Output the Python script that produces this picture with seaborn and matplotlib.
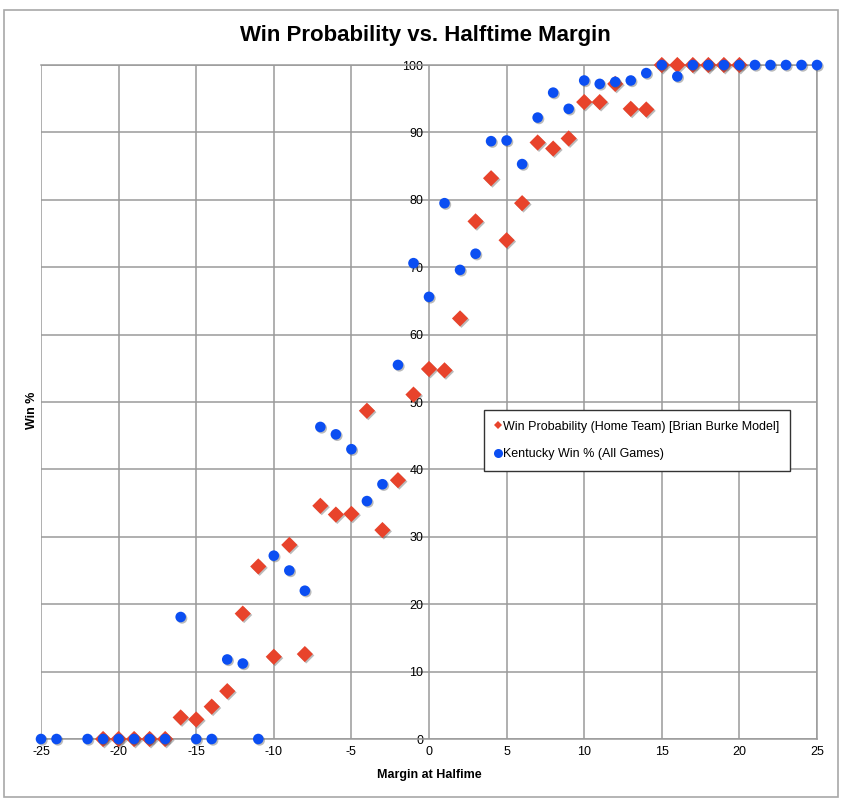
import matplotlib
matplotlib.use("Agg")
import matplotlib.pyplot as plt
import matplotlib.patheffects as pe
from matplotlib.patches import Rectangle
from matplotlib.lines import Line2D
import seaborn as sns
import pandas as pd

# ---- data ----
burke_margin = [-21, -20, -19, -18, -17, -16, -15, -14, -13, -12, -11, -10, -9, -8,
                -7, -6, -5, -4, -3, -2, -1, 0, 1, 2, 3, 4, 5, 6, 7, 8, 9, 10,
                11, 12, 13, 14, 15, 16, 17, 18, 19, 20]
burke_win = [0, 0, 0, 0, 0, 3.2, 2.9, 4.8, 7.1, 18.6, 25.6, 12.2, 28.8, 12.6,
             34.6, 33.3, 33.4, 48.7, 31.0, 38.4, 51.1, 54.9, 54.7, 62.4, 76.8, 83.2, 74.0, 79.5, 88.5, 87.6, 89.1, 94.5,
             94.5, 97.2, 93.5, 93.4, 100, 100, 100, 100, 100, 100]

uk_margin = [-25, -24, -22, -21, -20, -19, -18, -17, -16, -15, -14, -13, -12, -11,
             -10, -9, -8, -7, -6, -5, -4, -3, -2, -1, 0, 1, 2, 3, 4, 5, 6, 7, 8, 9,
             10, 11, 12, 13, 14, 15, 16, 17, 18, 19, 20, 21, 22, 23, 24, 25]
uk_win = [0, 0, 0, 0, 0, 0, 0, 0, 18.1, 0, 0, 11.8, 11.2, 0,
          27.2, 25.0, 22.0, 46.3, 45.2, 43.0, 35.3, 37.8, 55.5, 70.6, 65.6, 79.5, 69.6, 72.0, 88.7, 88.8, 85.3, 92.2, 95.9, 93.5,
          97.7, 97.2, 97.5, 97.7, 98.8, 100, 98.3, 100, 100, 100, 100, 100, 100, 100, 100, 100]

x_ticks = [-25, -20, -15, -10, -5, 0, 5, 10, 15, 20, 25]
y_ticks = [0, 10, 20, 30, 40, 50, 60, 70, 80, 90, 100]

label_burke = "Win Probability (Home Team) [Brian Burke Model]"
label_uk = "Kentucky Win % (All Games)"
title = "Win Probability vs. Halftime Margin"

RED = "#E8432B"
BLUE = "#0B4EF2"
GRID = "#9a9a9a"

sns.set_theme(style="white")
plt.rcParams["font.family"] = ["Liberation Sans", "DejaVu Sans"]
plt.rcParams["text.color"] = "black"

df_b = pd.DataFrame({"margin": burke_margin, "win": burke_win})
df_u = pd.DataFrame({"margin": uk_margin, "win": uk_win})

fig = plt.figure(figsize=(8.5, 8.05), dpi=100)
ax = fig.add_axes([41 / 850, 1 - 739 / 805, 776 / 850, 674 / 805])

shadow = [pe.SimplePatchShadow(offset=(1.0, -1.0), shadow_rgbFace="#555555", alpha=0.4), pe.Normal()]

sns.scatterplot(data=df_b, x="margin", y="win", ax=ax, marker="D", s=68,
                color=RED, edgecolor="none", linewidth=0, zorder=3)
sns.scatterplot(data=df_u, x="margin", y="win", ax=ax, marker="o", s=58,
                color=BLUE, edgecolor="none", linewidth=0, zorder=4)
for coll in ax.collections:
    coll.set_path_effects(shadow)
    coll.set_clip_on(False)

ax.set_xlim(-25, 25)
ax.set_ylim(0, 100)
ax.set_xticks(x_ticks)
ax.set_yticks(y_ticks)
ax.set_xticklabels([str(v) for v in x_ticks])
ax.set_yticklabels([str(v) for v in y_ticks])
ax.grid(True, color=GRID, linewidth=1.1, zorder=0)
ax.set_axisbelow(True)
for s in ["top", "right", "bottom", "left"]:
    ax.spines[s].set_color(GRID)
    ax.spines[s].set_linewidth(1.1)
ax.spines["left"].set_position(("data", 0))
ax.spines["left"].set_visible(False)
ax.tick_params(axis="both", length=0, labelsize=9, colors="black")
ax.tick_params(axis="y", pad=4)
ax.tick_params(axis="x", pad=5)
for lab in ax.get_yticklabels():
    lab.set_zorder(6)
ax.set_xlabel("")
ax.set_ylabel("")

fig.text(0.5, 1 - 36 / 805, title, ha="center", va="center", fontsize=16, fontweight="bold", color="black")
fig.text(429 / 850, 1 - 775 / 805, "Margin at Halfime", ha="center", va="center", fontsize=9, fontweight="bold", color="black")
fig.text(32 / 850, 1 - 410 / 805, "Win %", ha="center", va="center", fontsize=9, fontweight="bold", rotation=90, color="black")

handles = [
    Line2D([], [], linestyle="none", marker="D", markersize=4, color=RED, markeredgewidth=0),
    Line2D([], [], linestyle="none", marker="o", markersize=6.5, color=BLUE, markeredgewidth=0),
]
leg = ax.legend(handles, [label_burke, label_uk], loc="upper left",
                bbox_to_anchor=((484 - 41) / 776, (739 - 410) / 674), borderaxespad=0,
                fontsize=9, frameon=True, fancybox=False, handlelength=0.6, handletextpad=0.1,
                labelspacing=1.25, borderpad=0.85, framealpha=1)
leg.get_frame().set_edgecolor("#333333")
leg.get_frame().set_linewidth(1.0)
leg.set_zorder(10)
for t in leg.get_texts():
    t.set_color("black")

fig.patches.append(Rectangle((4 / 850, 1 - 797 / 805), 834 / 850, 787 / 805,
                             transform=fig.transFigure, fill=False, edgecolor="#a8a8a8", linewidth=1.2))

fig.savefig("out.png", dpi=100)
